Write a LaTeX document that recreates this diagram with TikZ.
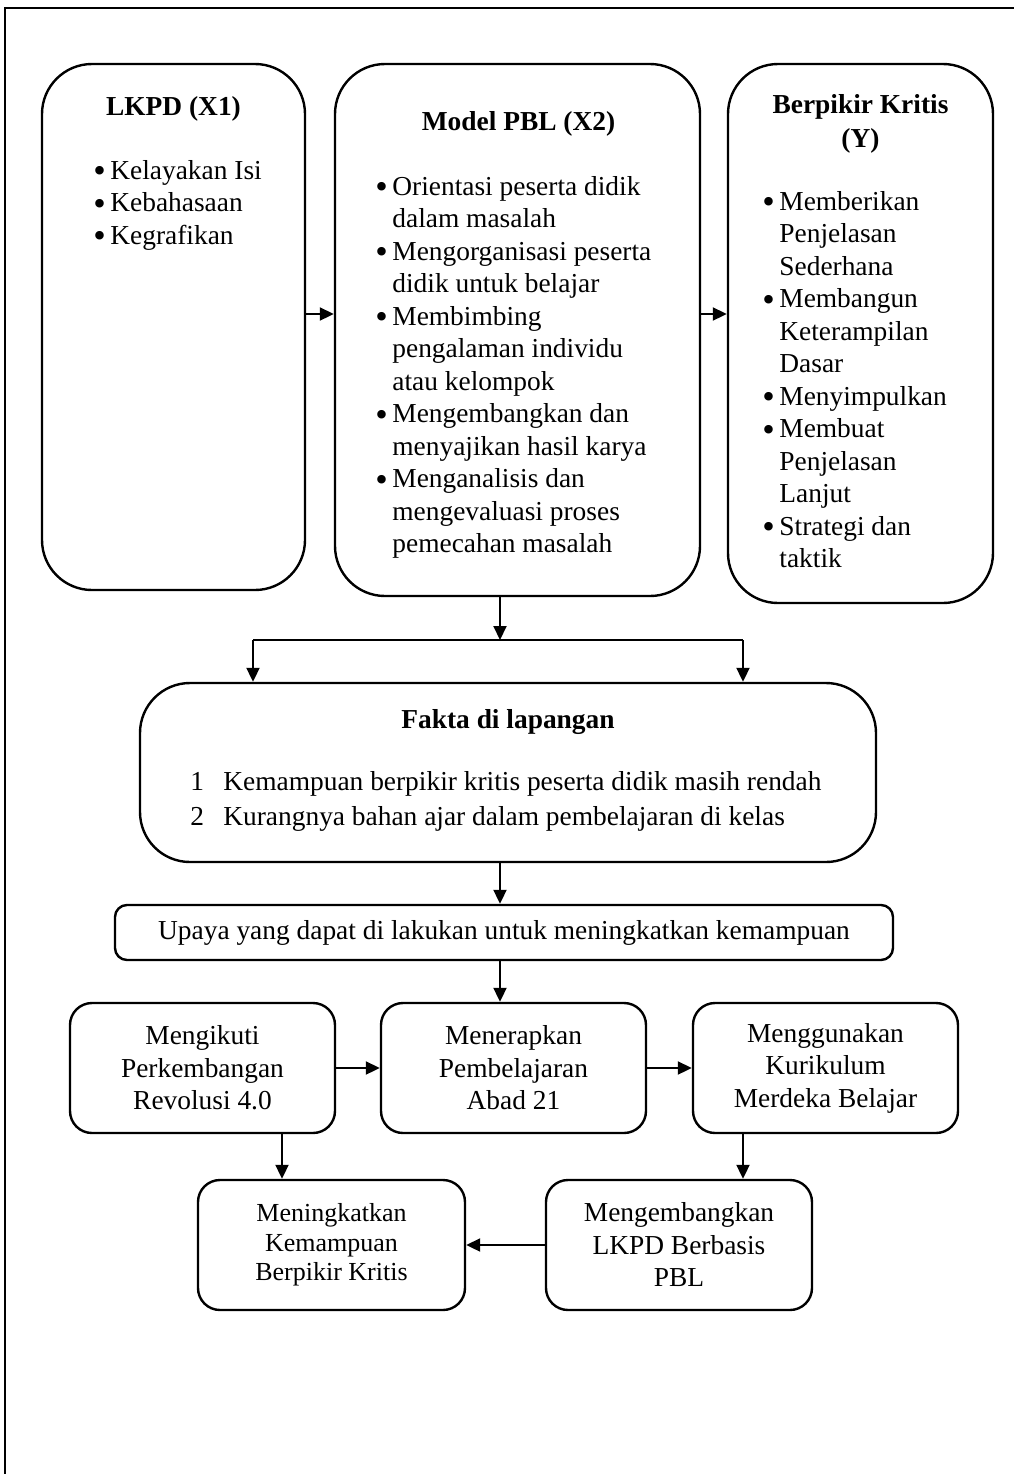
\documentclass[tikz,border=0pt]{standalone}
\usepackage{fontspec}
\setmainfont{Liberation Serif}
\usetikzlibrary{arrows.meta, positioning, calc}

\newcommand{\itm}[1]{\makebox[8.5pt][l]{\raisebox{-1.6pt}{\scalebox{1.3}{\textbullet}}}#1}
\newcommand{\cnt}[1]{\hspace*{8.5pt}#1}

\begin{document}
\begin{tikzpicture}[
		x=0.5pt, y=-0.5pt,
		every node/.style={font=\fontsize{13.7pt}{16.25pt}\selectfont},
		panel/.style={draw, rounded corners=25pt, line width=1.2pt, inner sep=0pt},
		stepbox/.style={draw, rounded corners=11pt, line width=1.2pt, align=center, minimum width=132.5pt, minimum height=65pt, inner sep=0pt},
		title/.style={font=\fontsize{13.7pt}{17pt}\selectfont\bfseries, align=center, inner sep=0pt},
		list/.style={align=left, inner sep=0pt, anchor=north west},
		arr/.style={-{Triangle[length=7pt,width=6.5pt]}, line width=1pt}
		]
		\useasboundingbox (0,0) rectangle (1014,1474);
		% outer frame
		\draw[line width=1pt] (5,1474) -- (5,8) -- (1014,8);
		
		% Top row: variables
		\node[panel, minimum width=131.5pt, minimum height=263pt] (lkpd) at (173.5,327) {};
		\node[panel, minimum width=182.5pt, minimum height=266pt] (pbl) at (517.5,330) {};
		\node[panel, minimum width=132.5pt, minimum height=269.5pt] (kritis) at (860.5,333.5) {};
		
		\node[title, anchor=base] (lkpdT) at (173.5,115) {LKPD (X1)};
		\node[list] (lkpdL) at (93,160) {\itm{Kelayakan Isi}\\ \itm{Kebahasaan}\\ \itm{Kegrafikan}};
		
		\node[title, anchor=base] (pblT) at (518.5,130) {Model PBL (X2)};
		\node[list] (pblL) at (375,176) {\itm{Orientasi peserta didik}\\ \cnt{dalam masalah}\\ \itm{Mengorganisasi peserta}\\ \cnt{didik untuk belajar}\\ \itm{Membimbing}\\ \cnt{pengalaman individu}\\ \cnt{atau kelompok}\\ \itm{Mengembangkan dan}\\ \cnt{menyajikan hasil karya}\\ \itm{Menganalisis dan}\\ \cnt{mengevaluasi proses}\\ \cnt{pemecahan masalah}};
		
		\node[title, anchor=north] (kritisT) at (860.5,94) {Berpikir Kritis\\(Y)};
		\node[list] (kritisL) at (762,191) {\itm{Memberikan}\\ \cnt{Penjelasan}\\ \cnt{Sederhana}\\ \itm{Membangun}\\ \cnt{Keterampilan}\\ \cnt{Dasar}\\ \itm{Menyimpulkan}\\ \itm{Membuat}\\ \cnt{Penjelasan}\\ \cnt{Lanjut}\\ \itm{Strategi dan}\\ \cnt{taktik}};
		
		% Facts
		\node[panel, minimum width=368pt, minimum height=89.5pt] (fakta) at (508,772.5) {};
		\node[title, anchor=base] (faktaT) at (508,728) {Fakta di lapangan};
		\node[list, font=\fontsize{13.7pt}{17.5pt}\selectfont] (faktaL) at (190,771) {\makebox[16.5pt][l]{1}Kemampuan berpikir kritis peserta didik masih rendah\\ \makebox[16.5pt][l]{2}Kurangnya bahan ajar dalam pembelajaran di kelas};
		
		\node[panel, rounded corners=6pt, minimum width=389pt, minimum height=27.5pt] (upaya) at (504,932.5) {Upaya yang dapat di lakukan untuk meningkatkan kemampuan};
		
		% Bottom steps
		\node[stepbox] (ikuti) at (202.5,1068) {Mengikuti\\Perkembangan\\Revolusi 4.0};
		\node[stepbox] (terap) at (513.5,1068) {Menerapkan\\Pembelajaran\\Abad 21};
		\node[stepbox] (guna) at (825.5,1068) {Menggunakan\\Kurikulum\\Merdeka Belajar};
		\node[stepbox, minimum width=133.5pt, font=\fontsize{13pt}{14.8pt}\selectfont] (tingkat) at (331.5,1245) {Meningkatkan\\Kemampuan\\Berpikir Kritis};
		\node[stepbox, minimum width=133pt] (kembang) at (679,1245) {Mengembangkan\\LKPD Berbasis\\PBL};
		
		% Connectors
		\draw[arr] ([yshift=6.5pt]lkpd.east) -- ([yshift=6.5pt]lkpd.east -| pbl.west);
		\draw[arr] ([yshift=8pt]pbl.east) -- ([yshift=8pt]pbl.east -| kritis.west);
		
		\coordinate (split) at (500,640);
		\coordinate (splitL) at (253,640);
		\coordinate (splitR) at (743,640);
		\draw[arr] (split |- pbl.south) -- (split);
		\draw[line width=1pt] (splitL) -- (splitR);
		\draw[arr] (splitL) -- (splitL |- fakta.north);
		\draw[arr] (splitR) -- (splitR |- fakta.north);
		
		\draw[arr] (fakta.south -| split) -- (upaya.north -| split);
		\draw[arr] (upaya.south -| split) -- (terap.north -| split);
		\draw[arr] (ikuti) -- (terap);
		\draw[arr] (terap) -- (guna);
		\draw[arr] ([xshift=39.75pt]ikuti.south) -- ([xshift=39.75pt]ikuti.south |- tingkat.north);
		\draw[arr] (guna.south -| splitR) -- (kembang.north -| splitR);
		\draw[arr] (kembang) -- (tingkat);
	\end{tikzpicture}
\end{document}
